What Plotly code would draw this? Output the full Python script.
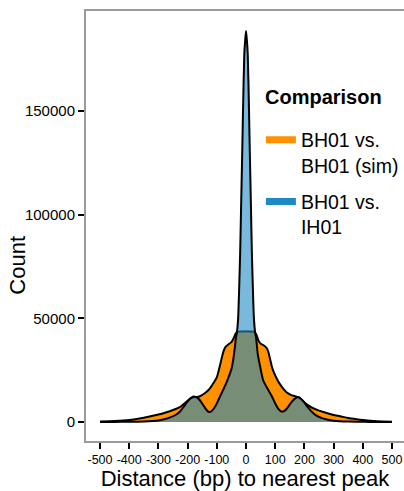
import plotly.graph_objects as go

# ---- data ----
series_names = ["BH01 vs.<br>BH01 (sim)", "BH01 vs.<br>IH01"]
series_groups = ["sim", "ih01"]
legend_title = "Comparison"

dist_sim = [-500, -450, -400, -350, -300, -275, -250, -225, -200, -190, -175, -160, -145,
            -135, -125, -112, -100, -95, -88, -83, -76, -70, -60, -50, -42, -36, -30, -20,
            -10, 0, 10, 20, 30, 36, 42, 50, 60, 70, 76, 83, 88, 95, 105, 115, 128, 140,
            155, 168, 180, 190, 208, 225, 250, 265, 300, 322, 350, 379, 400, 450, 500]
count_sim = [200, 450, 950, 2100, 3600, 4600, 5800, 7300, 10200, 11500, 12000, 12300, 13500,
             14600, 16000, 18700, 21500, 24000, 28000, 31000, 34500, 36200, 37500, 38500,
             40500, 42500, 43300, 43600, 43700, 43700, 43700, 43600, 43300, 42000, 39500,
             37800, 37000, 35800, 34000, 30000, 27000, 24000, 21000, 18500, 16000, 14200,
             13000, 12500, 11800, 10800, 8500, 7000, 5500, 4800, 3400, 2800, 1900, 1300,
             950, 400, 150]

dist_ih = [-500, -450, -400, -350, -300, -280, -260, -240, -225, -212, -200, -188, -180,
           -175, -165, -155, -145, -135, -127, -120, -110, -100, -90, -80, -70, -60, -50,
           -45, -40, -35, -31, -27, -24, -20, -17, -13, -10, -6, -3, 0, 3, 6, 10, 13, 17,
           20, 24, 27, 31, 35, 40, 48, 59, 70, 80, 88, 100, 110, 122, 130, 140, 150, 160,
           170, 179, 188, 200, 212, 226, 240, 260, 280, 300, 350, 400, 450, 500]
count_ih = [10, 40, 100, 250, 700, 1300, 2200, 3500, 5200, 7600, 10000, 11600, 12300,
            12200, 11500, 10000, 7800, 5800, 4800, 5000, 6500, 9000, 12000, 15000, 18000,
            21500, 25500, 29000, 34000, 40000, 43400, 50000, 62000, 82000, 103000, 130000,
            152000, 177000, 184000, 188500, 184000, 177000, 152000, 130000, 103000, 82000,
            62000, 50000, 43400, 40000, 33000, 27000, 20000, 17000, 14500, 12500, 9000,
            6500, 5000, 5200, 6500, 8500, 10300, 11500, 12000, 11200, 9300, 7000, 4800,
            3200, 1900, 1100, 650, 220, 90, 35, 10]

x_ticks = [-500, -400, -300, -200, -100, 0, 100, 200, 300, 400, 500]
y_ticks = [0, 50000, 100000, 150000]

orange = "#FF9100"
blue = "rgb(30,138,197)"
blue_fill = "rgba(30,138,197,0.6)"
FONT = "Liberation Sans, Arial, Helvetica, sans-serif"

fig = go.Figure()
fig.add_trace(go.Scatter(x=dist_sim, y=count_sim, mode="lines", fill="tozeroy",
                         fillcolor=orange, line=dict(color="black", width=2, shape="spline", smoothing=0.6),
                         showlegend=False, hoverinfo="skip", legendgroup=series_groups[0]))
fig.add_trace(go.Scatter(x=dist_ih, y=count_ih, mode="lines", fill="tozeroy",
                         fillcolor=blue_fill, line=dict(color="black", width=2, shape="spline", smoothing=0.6),
                         showlegend=False, hoverinfo="skip", legendgroup=series_groups[1]))
# legend keys
for name, grp, col in zip(series_names, series_groups, [orange, blue]):
    fig.add_trace(go.Scatter(x=[None], y=[None], mode="lines", name=name, legendgroup=grp,
                             line=dict(color=col, width=7)))

fig.update_layout(
    width=404, height=491,
    margin=dict(l=86, r=0, t=11, b=50),
    paper_bgcolor="white", plot_bgcolor="white",
    font=dict(family=FONT, color="black"),
    showlegend=True,
    legend=dict(x=0.55, y=0.745, xanchor="left", yanchor="top",
                bgcolor="rgba(0,0,0,0)", font=dict(size=19.5, family=FONT),
                itemwidth=30, valign="top", tracegroupgap=8),
    xaxis=dict(range=[-548, 541], tickvals=x_ticks, ticktext=[str(v) for v in x_ticks],
               tickangle=0, ticks="outside", ticklen=6,
               tickwidth=1.5, tickcolor="black", showline=True, linecolor="#9b9b9b",
               linewidth=2, mirror=True, showgrid=False, zeroline=False,
               tickfont=dict(size=12.5, family=FONT),
               title=dict(text="Distance (bp) to nearest peak", font=dict(size=22, family=FONT), standoff=4)),
    yaxis=dict(range=[-9160, 198200], tickvals=y_ticks, ticktext=[str(v) for v in y_ticks],
               ticks="outside", ticklen=6,
               tickwidth=1.5, tickcolor="black", showline=True, linecolor="#9b9b9b",
               linewidth=2, showgrid=False, zeroline=False,
               tickfont=dict(size=15, family=FONT)),
    annotations=[
        dict(text="Count", xref="paper", yref="paper", x=-0.214, y=0.41,
             textangle=-90, showarrow=False, font=dict(size=22, family=FONT),
             xanchor="center", yanchor="middle"),
        dict(text=legend_title, xref="paper", yref="paper", x=0.558, y=0.80,
             showarrow=False, font=dict(size=20, family=FONT, weight="bold"),
             xanchor="left", yanchor="middle"),
    ],
)

fig.write_html("out.html")
